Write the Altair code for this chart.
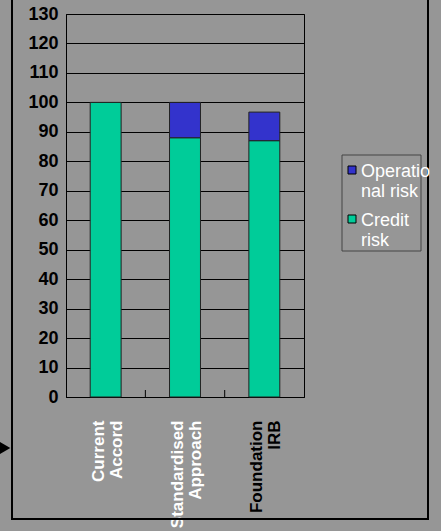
import altair as alt
import pandas as pd

categories = ["Current Accord", "Standardised Approach", "Foundation IRB"]
credit_risk = [100, 88, 87]
operational_risk = [0, 12, 9.7]
series = ["Operational risk", "Credit risk"]
colors = ["#3333CC", "#00CC99"]
y_ticks = list(range(0, 131, 10))

rows = []
for c, cr, op in zip(categories, credit_risk, operational_risk):
    rows.append({"category": c, "series": "Credit risk", "value": cr, "order": 0})
    rows.append({"category": c, "series": "Operational risk", "value": op, "order": 1})
df = pd.DataFrame(rows)

FONT = "Liberation Sans"

x_scale = alt.Scale(domain=categories, paddingInner=0.61, paddingOuter=0.305)

bars = alt.Chart(df).transform_filter("datum.value > 0").mark_bar(
    stroke="#222222", strokeWidth=1
).encode(
    x=alt.X("category:N", sort=categories, scale=x_scale, title=None,
            axis=alt.Axis(labelAngle=270, labelExpr="split(datum.label, ' ')",
                          labelFont=FONT, labelFontSize=17, labelFontWeight="bold",
                          labelLineHeight=18, labelPadding=23, labelOffset=-7, ticks=False,
                          labelColor={"condition": {"test": "datum.value === 'Foundation IRB'", "value": "black"}, "value": "white"},
                          domainColor="black", domainWidth=1, labelLimit=300)),
    y=alt.Y("value:Q", stack="zero", scale=alt.Scale(domain=[0, 130], nice=False), title=None,
            axis=alt.Axis(values=y_ticks, grid=True, gridColor="black", gridWidth=1, ticks=False,
                          labelFont=FONT, labelFontSize=18, labelFontWeight="bold", labelColor="black",
                          labelPadding=8, domainColor="black")),
    color=alt.Color("series:N", scale=alt.Scale(domain=series, range=colors),
                    legend=alt.Legend(title=None, orient="none", legendX=277, legendY=140,
                                      symbolType="M-1,0.75H1V2.75H-1Z", symbolSize=64, symbolStrokeColor="black",
                                      symbolStrokeWidth=1, labelColor="white", labelFont=FONT,
                                      labelFontSize=18, labelBaseline="top",
                                      labelOffset=0, padding=0, rowPadding=2,
                                      labelExpr="datum.label == 'Operational risk' ? ['Operatio', 'nal risk'] : ['Credit', 'risk']")),
    order=alt.Order("order:Q"),
)

tick_df = pd.DataFrame({"category": categories[:2]})
inner_ticks = alt.Chart(tick_df).mark_rule(color="black", xOffset=39.7).encode(
    x=alt.X("category:N", sort=categories, scale=x_scale),
    y=alt.value(376), y2=alt.value(383),
)

one = alt.Data(values=[{"a": 1}])
legend_box = alt.Chart(one).mark_rect(fill=None, stroke="#444444", strokeWidth=1).encode(
    x=alt.value(276), x2=alt.value(355), y=alt.value(141), y2=alt.value(237))

frame_left = alt.Chart(one).mark_rule(color="black", strokeWidth=2).encode(
    x=alt.value(-54), y=alt.value(-30), y2=alt.value(505))
frame_right = alt.Chart(one).mark_rule(color="black", strokeWidth=2).encode(
    x=alt.value(362), y=alt.value(-30), y2=alt.value(505))
frame_bottom = alt.Chart(one).mark_rule(color="black", strokeWidth=2).encode(
    x=alt.value(-55), x2=alt.value(363), y=alt.value(505))
arrow = alt.Chart(one).mark_point(shape="triangle-right", filled=True, color="black", size=150, opacity=1).encode(
    x=alt.value(-61), y=alt.value(434))

chart = alt.layer(bars, inner_ticks, legend_box, frame_left, frame_right, frame_bottom, arrow).properties(
    width=238, height=383,
    autosize=alt.AutoSizeParams(type="none"),
    padding={"left": 66, "top": 14, "right": 137, "bottom": 134},
    background="#969696",
).configure_view(stroke="black", strokeWidth=1)

chart.save("out.html", embed_options={"renderer": "svg", "actions": False})
